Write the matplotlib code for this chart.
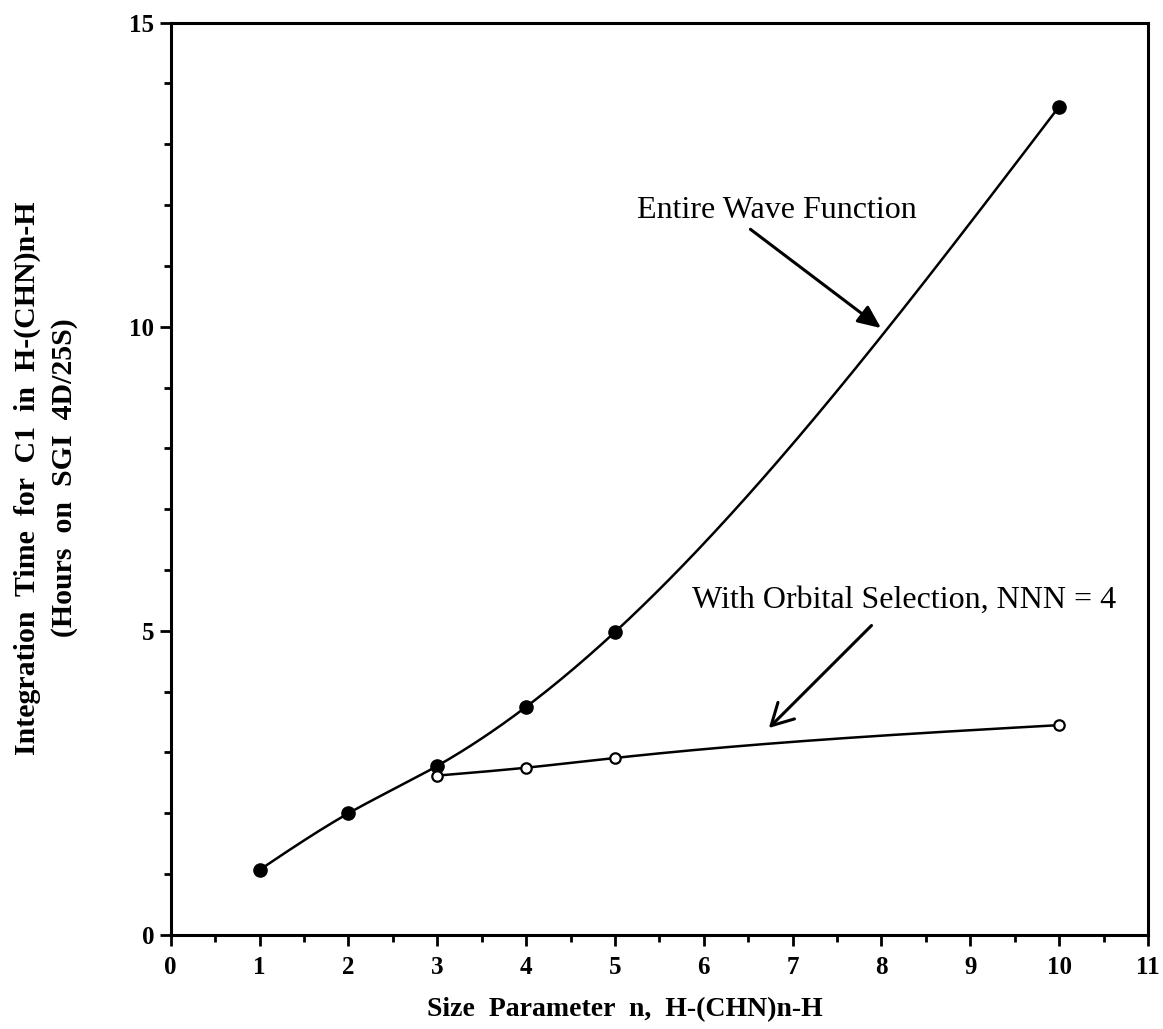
import matplotlib
matplotlib.use('Agg')
import matplotlib.pyplot as plt
import numpy as np

# values
n_entire = [1, 2, 3, 4, 5, 10]
t_entire = [1.07, 2.0, 2.78, 3.75, 4.98, 13.62]
n_orbital = [3, 4, 5, 10]
t_orbital = [2.62, 2.75, 2.91, 3.45]

x_ticks = list(range(0, 12))
y_ticks = [0, 5, 10, 15]


def smooth(x, y, num=300):
    # natural cubic spline, just for drawing the curve through the points
    x = np.asarray(x, float)
    y = np.asarray(y, float)
    n = len(x)
    h = np.diff(x)
    A = np.zeros((n, n))
    r = np.zeros(n)
    A[0, 0] = 1
    A[-1, -1] = 1
    for i in range(1, n - 1):
        A[i, i - 1] = h[i - 1]
        A[i, i] = 2 * (h[i - 1] + h[i])
        A[i, i + 1] = h[i]
        r[i] = 3 * ((y[i + 1] - y[i]) / h[i] - (y[i] - y[i - 1]) / h[i - 1])
    c = np.linalg.solve(A, r)
    b = (y[1:] - y[:-1]) / h - h * (2 * c[:-1] + c[1:]) / 3
    d = (c[1:] - c[:-1]) / (3 * h)
    xs = np.linspace(x[0], x[-1], num)
    idx = np.clip(np.searchsorted(x, xs) - 1, 0, n - 2)
    dx = xs - x[idx]
    ys = y[idx] + b[idx] * dx + c[idx] * dx ** 2 + d[idx] * dx ** 3
    return xs, ys


plt.rcParams['font.family'] = ['Liberation Serif', 'DejaVu Serif']

fig = plt.figure(figsize=(11.63, 10.29), dpi=100)
ax = fig.add_axes([0.1468, 0.0914, 0.8403, 0.8866])

xs, ys = smooth(n_entire, t_entire)
ax.plot(xs, ys, color='black', lw=1.8)
ax.plot(n_entire, t_entire, 'o', color='black', ms=9.5)

xs, ys = smooth(n_orbital, t_orbital)
ax.plot(xs, ys, color='black', lw=1.8)
ax.plot(n_orbital, t_orbital, 'o', mfc='white', mec='black', mew=1.6, ms=7.5)

ax.set_xlim(0, 11)
ax.set_ylim(0, 15)
ax.set_xticks(x_ticks)
ax.set_xticks(np.arange(0.5, 11, 1.0), minor=True)
ax.set_yticks(y_ticks)
ax.set_yticks(range(0, 16), minor=True)
ax.tick_params(which='major', direction='out', length=8, width=2, labelsize=18)
ax.tick_params(which='minor', direction='out', length=5, width=2)
ax.tick_params(axis='x', which='major', pad=7)
ax.tick_params(axis='y', which='major', pad=4)
for lab in ax.get_xticklabels() + ax.get_yticklabels():
    lab.set_fontweight('bold')
for sp in ax.spines.values():
    sp.set_linewidth(2.2)

ax.set_xlabel('Size  Parameter  n,  H-(CHN)n-H', fontsize=20, fontweight='bold')
ax.xaxis.set_label_coords(0.465, -0.068)
ax.set_ylabel('Integration  Time  for  C1  in  H-(CHN)n-H\n(Hours  on  SGI  4D/25S)',
              fontsize=21.5, fontweight='bold', linespacing=1.45)
ax.yaxis.set_label_coords(-0.095, 0.501)

ax.text(5.25, 11.79, 'Entire Wave Function', fontsize=23, va='baseline')
ax.annotate('', xy=(8.02, 9.95), xytext=(6.50, 11.63),
            arrowprops=dict(arrowstyle='-|>,head_length=0.5,head_width=0.22', color='black',
                            lw=2.2, mutation_scale=28))

ax.text(5.87, 5.38, 'With Orbital Selection, NNN = 4', fontsize=23, va='baseline')
ax.annotate('', xy=(6.71, 3.37), xytext=(7.91, 5.12),
            arrowprops=dict(arrowstyle='->,head_length=0.55,head_width=0.3', color='black',
                            lw=2.2, mutation_scale=28))

fig.savefig('out.png', dpi=100)
